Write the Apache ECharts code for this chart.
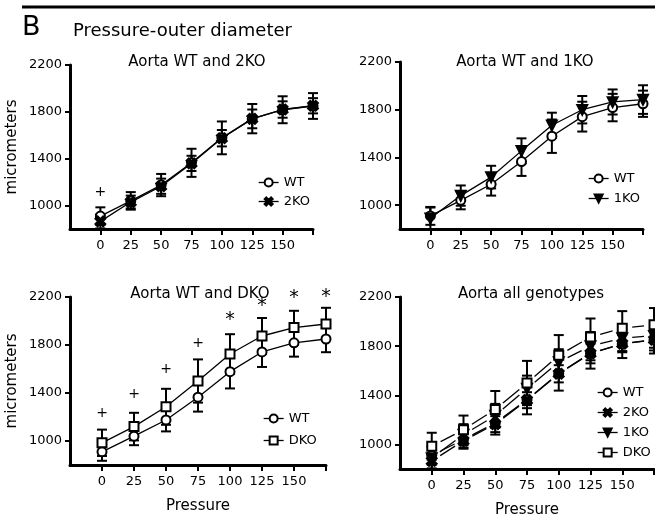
<!DOCTYPE html>
<html>
<head>
<meta charset="utf-8">
<script src="https://cdn.jsdelivr.net/npm/echarts@6.0.0/dist/echarts.min.js"></script>
<style>
  html, body { margin: 0; padding: 0; background: #fff; }
  #chart { width: 655px; height: 519px; }
</style>
</head>
<body>
<div id="chart"></div>
<script>
// pressure steps (x) and axis ticks
var pressure = [0, 25, 50, 75, 100, 125, 150, 175];
var pressureTicks = [0, 25, 50, 75, 100, 125, 150, 175];
var pressureLabels = [0, 25, 50, 75, 100, 125, 150];
var diameterTicks = [1000, 1400, 1800, 2200];

// outer diameter, micrometers (mean and error)
var wtMean = [910, 1040, 1175, 1365, 1578, 1742, 1818, 1850];
var wtErr = [75, 75, 95, 120, 140, 125, 115, 110];
var ko2Mean = [865, 1030, 1165, 1360, 1575, 1740, 1820, 1852];
var ko2Err = [60, 55, 65, 65, 70, 80, 70, 65];
var ko1Mean = [890, 1080, 1235, 1455, 1670, 1800, 1865, 1885];
var ko1Err = [90, 85, 95, 105, 105, 115, 105, 120];
var dkoMean = [985, 1120, 1285, 1500, 1725, 1875, 1945, 1975];
var dkoErr = [110, 115, 150, 180, 165, 150, 140, 135];

// significance marks [pressure, height]
var plusTop = [[0, 1110]];
var plusDko = [[0, 1230], [25, 1390], [50, 1595], [75, 1810]];
var starDko = [[100, 2010], [125, 2125], [150, 2190], [175, 2200]];

var FONT = 'DejaVu Sans';

var genotypes = {
    WT: { mean: wtMean, err: wtErr, symbol: 'emptyCircle' },
    '2KO': { mean: ko2Mean, err: ko2Err, symbol: 'path://M0,2L2,0L5,3L8,0L10,2L7,5L10,8L8,10L5,7L2,10L0,8L3,5Z' },
    '1KO': { mean: ko1Mean, err: ko1Err, symbol: 'path://M0,0L10,0L5,9Z' },
    DKO: { mean: dkoMean, err: dkoErr, symbol: 'emptyRect' }
};

var chart = echarts.init(document.getElementById('chart'));

function plain(v) { return String(v); }

function xAxisFor(i, withName) {
    return {
        type: 'value', gridIndex: i, min: -25, max: 175,
        name: withName ? 'Pressure' : '',
        nameLocation: 'middle', nameGap: 34,
        nameTextStyle: { fontFamily: FONT, fontSize: 15, color: '#000' },
        axisLine: { onZero: false, lineStyle: { color: '#000', width: 3 } },
        axisTick: { customValues: pressureTicks, length: 6, lineStyle: { color: '#000', width: 2 } },
        axisLabel: { customValues: pressureLabels, formatter: plain, margin: 10, fontFamily: FONT, fontSize: 13, color: '#000' },
        splitLine: { show: false }
    };
}

function yAxisFor(i, withName) {
    return {
        type: 'value', gridIndex: i, min: 800, max: 2200,
        name: withName ? 'micrometers' : '',
        nameLocation: 'middle', nameGap: 50, nameRotate: 90,
        nameTextStyle: { fontFamily: FONT, fontSize: 15, color: '#000' },
        axisLine: { onZero: false, lineStyle: { color: '#000', width: 3 } },
        axisTick: { customValues: diameterTicks, length: 5, lineStyle: { color: '#000', width: 2 } },
        axisLabel: { customValues: diameterTicks, formatter: plain, margin: 8, fontFamily: FONT, fontSize: 13, color: '#000' },
        splitLine: { show: false }
    };
}

function points(mean) {
    return pressure.map(function (p, i) { return [p, mean[i]]; });
}

function errorSeries(name, panel) {
    var g = genotypes[name];
    return {
        type: 'custom', xAxisIndex: panel, yAxisIndex: panel, z: 2,
        data: pressure.map(function (p, i) { return [p, g.mean[i], g.err[i]]; }),
        encode: { x: 0, y: 1 },
        renderItem: function (params, api) {
            var x = api.value(0), m = api.value(1), e = api.value(2);
            var top = api.coord([x, m + e]);
            var bot = api.coord([x, m - e]);
            var st = { stroke: '#000', lineWidth: 2 };
            return {
                type: 'group',
                children: [
                    { type: 'line', shape: { x1: top[0], y1: top[1], x2: bot[0], y2: bot[1] }, style: st },
                    { type: 'line', shape: { x1: top[0] - 5, y1: top[1], x2: top[0] + 5, y2: top[1] }, style: st },
                    { type: 'line', shape: { x1: bot[0] - 5, y1: bot[1], x2: bot[0] + 5, y2: bot[1] }, style: st }
                ]
            };
        }
    };
}

function lineSeries(name, panel, hideLine) {
    var g = genotypes[name];
    return {
        name: name, type: 'line', xAxisIndex: panel, yAxisIndex: panel, z: 3,
        data: points(g.mean),
        symbol: g.symbol, symbolSize: 9,
        itemStyle: { color: '#000', borderColor: '#000', borderWidth: 2.6 },
        lineStyle: { color: '#000', width: hideLine ? 0 : 1.3 },
        emphasis: { disabled: true },
        animation: false
    };
}

// line segments that stop short of the markers (all genotypes panel)
function gapSeries(name, panel) {
    var g = genotypes[name];
    var segs = [];
    for (var i = 0; i < pressure.length - 1; i++) {
        segs.push([pressure[i], g.mean[i], pressure[i + 1], g.mean[i + 1]]);
    }
    return {
        type: 'custom', xAxisIndex: panel, yAxisIndex: panel, z: 2,
        data: segs,
        encode: { x: [0, 2], y: [1, 3] },
        renderItem: function (params, api) {
            var a = api.coord([api.value(0), api.value(1)]);
            var b = api.coord([api.value(2), api.value(3)]);
            var dx = b[0] - a[0], dy = b[1] - a[1];
            var len = Math.sqrt(dx * dx + dy * dy);
            var gap = 10;
            var ux = dx / len, uy = dy / len;
            return {
                type: 'line',
                shape: { x1: a[0] + ux * gap, y1: a[1] + uy * gap, x2: b[0] - ux * gap, y2: b[1] - uy * gap },
                style: { stroke: '#000', lineWidth: 1.3 }
            };
        }
    };
}

function markSeries(marks, text, size, panel) {
    return {
        type: 'custom', xAxisIndex: panel, yAxisIndex: panel, z: 4,
        data: marks,
        encode: { x: 0, y: 1 },
        renderItem: function (params, api) {
            var c = api.coord([api.value(0), api.value(1)]);
            return {
                type: 'text', x: c[0], y: c[1],
                style: { text: text, fontFamily: FONT, fontSize: size, fill: '#000', align: 'center', verticalAlign: 'middle' }
            };
        }
    };
}

function legendFor(names, left, top, gap) {
    return {
        data: names, orient: 'vertical', left: left, top: top, padding: 0,
        itemWidth: 20, itemHeight: 10, itemGap: gap,
        selectedMode: false,
        lineStyle: { color: '#000', width: 1.3, opacity: 1 },
        textStyle: { fontFamily: FONT, fontSize: 13, color: '#000' }
    };
}

var panels = [
    ['WT', '2KO'],
    ['WT', '1KO'],
    ['WT', 'DKO'],
    ['WT', '2KO', '1KO', 'DKO']
];

var series = [];
panels.forEach(function (names, p) {
    names.forEach(function (n) {
        series.push(errorSeries(n, p));
        series.push(lineSeries(n, p, p === 3));
        if (p === 3) series.push(gapSeries(n, p));
    });
});
series.push(markSeries(plusTop, '+', 14, 0));
series.push(markSeries(plusDko, '+', 14, 2));
series.push(markSeries(starDko, '*', 19, 2));

var titleStyle = { fontFamily: FONT, fontSize: 15, fill: '#000', align: 'center', verticalAlign: 'middle' };

var option = {
    backgroundColor: '#fff',
    animation: false,
    grid: [
        { left: 70, top: 65, width: 243, height: 164 },
        { left: 400, top: 62, width: 243, height: 167 },
        { left: 70, top: 297, width: 256, height: 168 },
        { left: 400, top: 297, width: 254, height: 172 }
    ],
    xAxis: [xAxisFor(0, false), xAxisFor(1, false), xAxisFor(2, true), xAxisFor(3, true)],
    yAxis: [yAxisFor(0, true), yAxisFor(1, false), yAxisFor(2, true), yAxisFor(3, false)],
    legend: [
        legendFor(['WT', '2KO'], 258, 176, 6),
        legendFor(['WT', '1KO'], 588, 172, 7),
        legendFor(['WT', 'DKO'], 263, 412, 9),
        legendFor(['WT', '2KO', '1KO', 'DKO'], 597, 386, 7)
    ],
    graphic: [
        { type: 'line', shape: { x1: 22, y1: 7, x2: 655, y2: 7 }, style: { stroke: '#000', lineWidth: 3 } },
        { type: 'text', x: 22, y: 28, style: { text: 'B', fontFamily: FONT, fontSize: 27, fill: '#000', verticalAlign: 'middle' } },
        { type: 'text', x: 73, y: 31, style: { text: 'Pressure-outer diameter', fontFamily: FONT, fontSize: 18, fill: '#000', verticalAlign: 'middle' } },
        { type: 'text', x: 197, y: 62, style: Object.assign({ text: 'Aorta WT and 2KO' }, titleStyle) },
        { type: 'text', x: 525, y: 62, style: Object.assign({ text: 'Aorta WT and 1KO' }, titleStyle) },
        { type: 'text', x: 200, y: 294, style: Object.assign({ text: 'Aorta WT and DKO' }, titleStyle) },
        { type: 'text', x: 531, y: 294, style: Object.assign({ text: 'Aorta all genotypes' }, titleStyle) }
    ],
    series: series
};
chart.setOption(option);
</script>
</body>
</html>
